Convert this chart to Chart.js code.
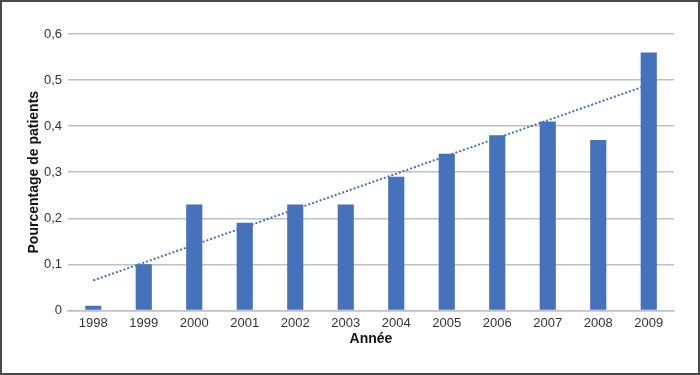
<!DOCTYPE html>
<html>
<head>
<meta charset="utf-8">
<script src="https://cdn.jsdelivr.net/npm/chart.js@4"></script>
<style>
  body { margin: 0; background: #fff; }
  #frame { width: 700px; height: 375px; box-sizing: border-box; border: 2px solid #4a4a4a; background: #fff; }
  canvas { display: block; }
</style>
</head>
<body>
<div id="frame"><canvas id="chart" width="696" height="371"></canvas></div>
<script>
const years = ['1998', '1999', '2000', '2001', '2002', '2003', '2004', '2005', '2006', '2007', '2008', '2009'];
const percentages = [0.01, 0.10, 0.23, 0.19, 0.23, 0.23, 0.29, 0.34, 0.38, 0.41, 0.37, 0.56];
// dotted trend line, ends
const trend = [0.065, null, null, null, null, null, null, null, null, null, null, 0.49];
const yTicks = [0, 0.1, 0.2, 0.3, 0.4, 0.5, 0.6];

const blue = '#4671bb';
const font = { family: 'Liberation Sans, Arial, sans-serif', size: 13 };

new Chart(document.getElementById('chart'), {
  data: {
    labels: years,
    datasets: [
      {
        type: 'line',
        data: trend,
        spanGaps: true,
        borderColor: blue,
        borderWidth: 2,
        borderDash: [2, 2],
        pointRadius: 0,
        fill: false,
        order: 0
      },
      {
        type: 'bar',
        data: percentages,
        backgroundColor: blue,
        barPercentage: 0.64,
        categoryPercentage: 0.5,
        order: 1
      }
    ]
  },
  options: {
    responsive: false,
    animation: false,
    layout: { padding: { left: 20, right: 24, top: 32, bottom: 27 } },
    plugins: { legend: { display: false }, tooltip: { enabled: false } },
    scales: {
      x: {
        grid: { display: false, drawTicks: false },
        border: { display: true, color: '#c0c0c0', width: 1.5 },
        ticks: { color: '#333', font: font, padding: 5, maxRotation: 0 },
        title: { display: true, text: 'Année', color: '#111', font: { family: font.family, size: 14, weight: 'bold', lineHeight: 1 }, padding: { top: -4, bottom: 0 } }
      },
      y: {
        min: 0,
        max: 0.6,
        afterBuildTicks: axis => { axis.ticks = yTicks.map(v => ({ value: v })); },
        afterFit: axis => { axis.width = 46; },
        grid: { color: '#c0c0c0', lineWidth: 1.5, drawTicks: false },
        border: { display: false },
        ticks: {
          color: '#333',
          font: font,
          padding: 6,
          callback: v => String(Math.round(v * 10) / 10).replace('.', ',')
        },
        title: { display: true, text: 'Pourcentage de patients', color: '#111', font: { family: font.family, size: 14, weight: 'bold' }, padding: { bottom: 0 } }
      }
    }
  }
});
</script>
</body>
</html>
